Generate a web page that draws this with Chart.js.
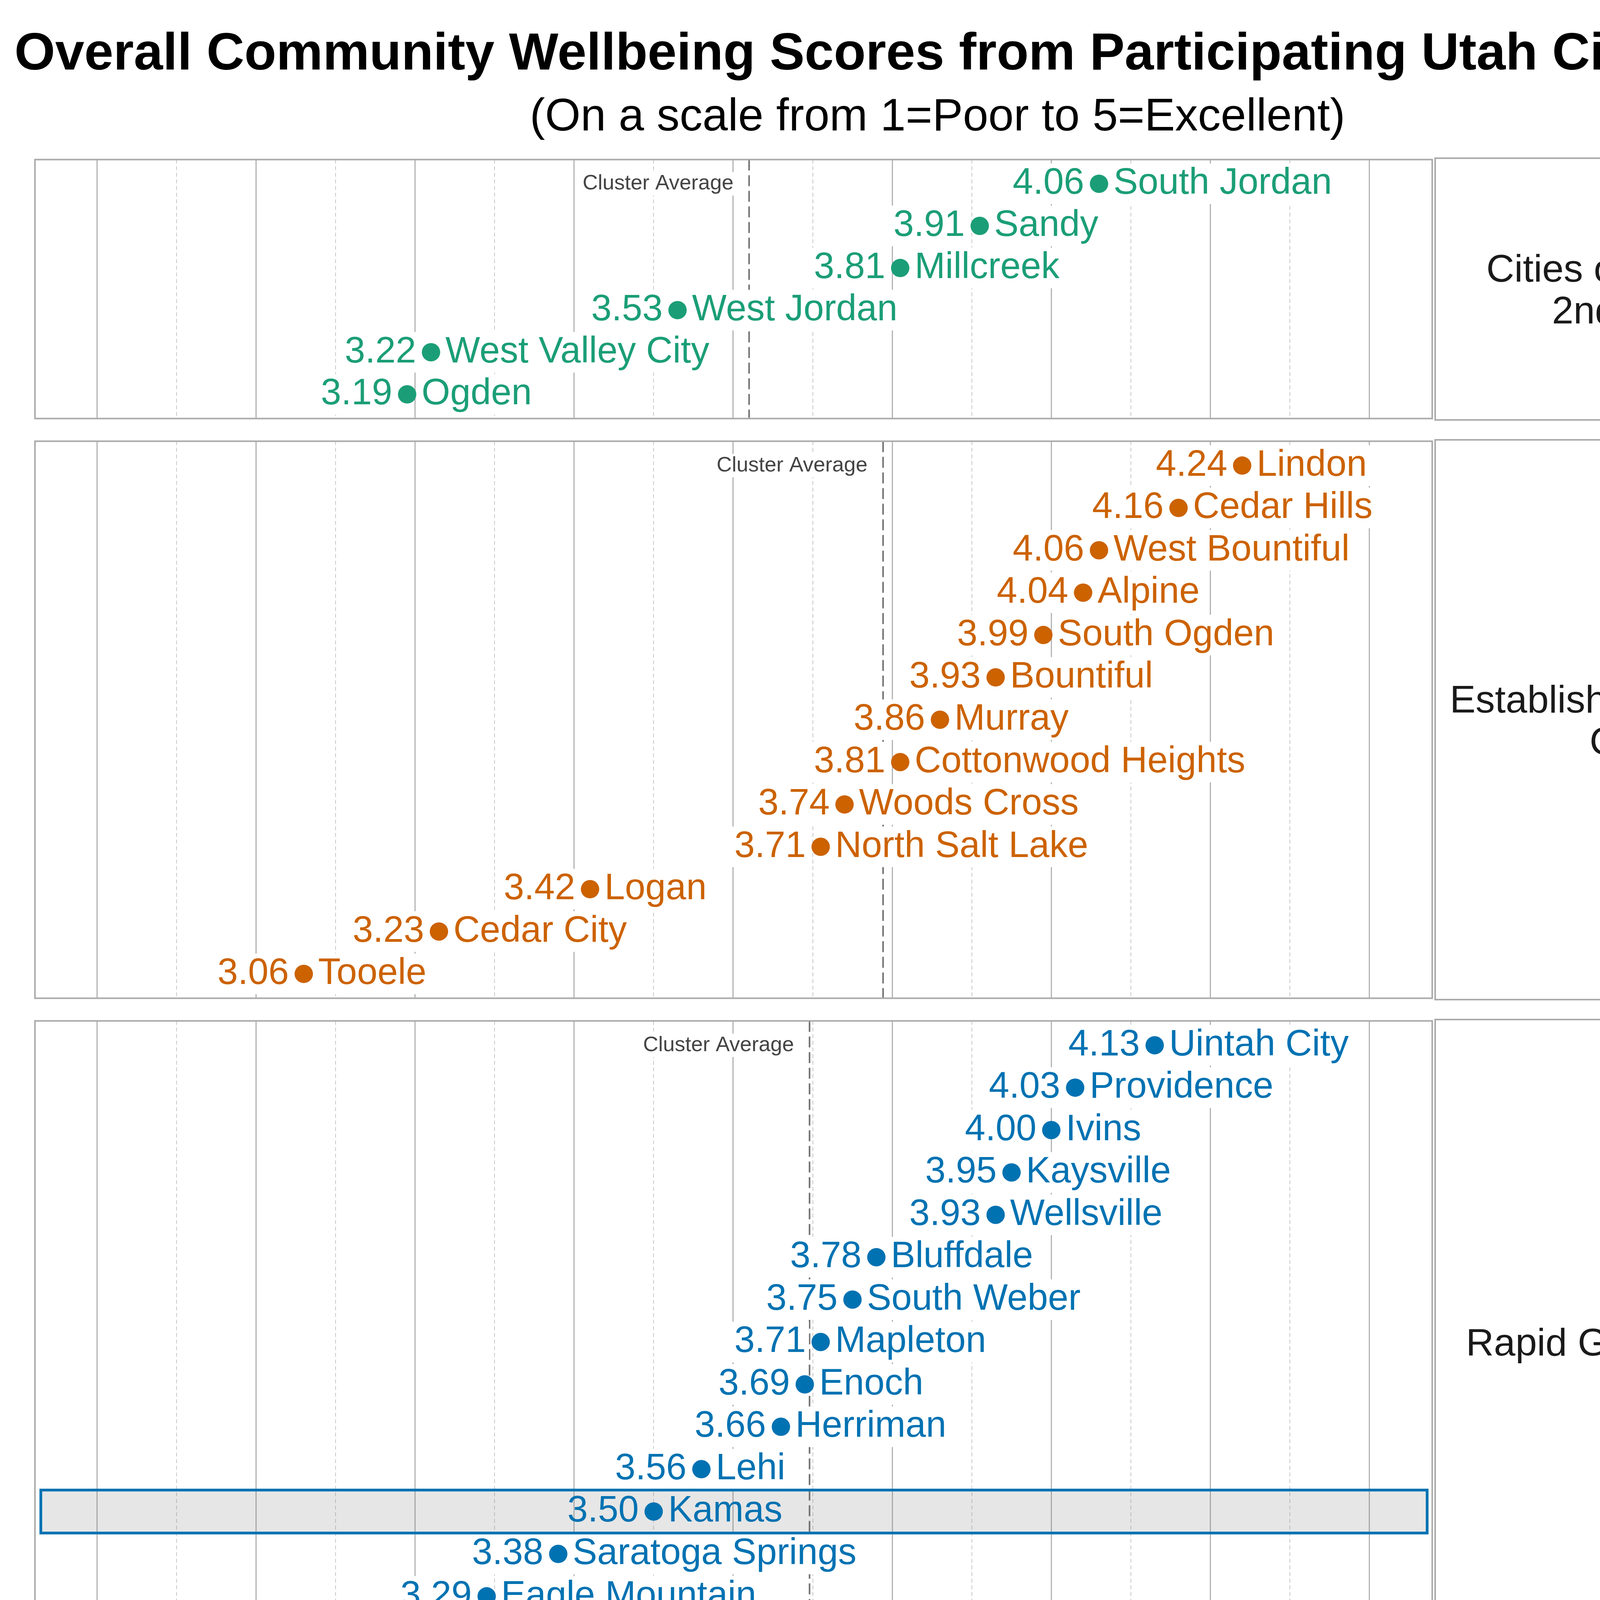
<!DOCTYPE html>
<html>
<head>
<meta charset="utf-8">
<title>Overall Community Wellbeing Scores</title>
<script src="https://cdn.jsdelivr.net/npm/chart.js@4.4.1/dist/chart.umd.min.js"></script>
<style>
  html, body { margin: 0; padding: 0; background: #fff; }
  body { width: 4800px; height: 7200px; position: relative; overflow: hidden;
         font-family: "Liberation Sans", Arial, sans-serif; }
  #page { position: absolute; left: 0; top: 0; width: 4800px; height: 7200px; }
  .head { position: absolute; left: 0; width: 4800px; text-align: center; color: #000; white-space: nowrap; }
  #title { top: 65px; font-size: 134px; line-height: 134px; font-weight: bold; }
  #subtitle { top: 235px; font-size: 117px; line-height: 117px; }
  canvas { position: absolute; left: 66px; }
  .strip { position: absolute; left: 3672px; width: 1042px; box-sizing: border-box;
           border: 4px solid #aaaaaa; display: flex; align-items: center; justify-content: center;
           text-align: center; font-size: 99px; line-height: 107px; color: #1a1a1a; }
</style>
</head>
<body>
<div id="page">
<div class="head" id="title">Overall Community Wellbeing Scores from Participating Utah Cities (2026)</div>
<div class="head" id="subtitle">(On a scale from 1=Poor to 5=Excellent)</div>
</div>
<script>
// cluster 1: cities of the 1st & 2nd class
const CITIES_1ST_2ND = ['South Jordan', 'Sandy', 'Millcreek', 'West Jordan', 'West Valley City', 'Ogden'];
const SCORES_1ST_2ND = [4.06, 3.91, 3.81, 3.53, 3.22, 3.19];

// cluster 2: established / mid-sized
const CITIES_ESTABLISHED = ['Lindon', 'Cedar Hills', 'West Bountiful', 'Alpine', 'South Ogden', 'Bountiful',
    'Murray', 'Cottonwood Heights', 'Woods Cross', 'North Salt Lake', 'Logan', 'Cedar City', 'Tooele'];
const SCORES_ESTABLISHED = [4.24, 4.16, 4.06, 4.04, 3.99, 3.93, 3.86, 3.81, 3.74, 3.71, 3.42, 3.23, 3.06];

// cluster 3: rapid growth
const CITIES_RAPID = ['Uintah City', 'Providence', 'Ivins', 'Kaysville', 'Wellsville', 'Bluffdale', 'South Weber',
    'Mapleton', 'Enoch', 'Herriman', 'Lehi', 'Kamas', 'Saratoga Springs', 'Eagle Mountain', 'Grantsville'];
const SCORES_RAPID = [4.13, 4.03, 4.00, 3.95, 3.93, 3.78, 3.75, 3.71, 3.69, 3.66, 3.56, 3.50, 3.38, 3.29, 3.08];

// cluster 4: rural hub / resort
const CITIES_RURAL_HUB = ['Midway', 'Alta', 'Morgan', 'Bluff', 'Springdale', 'Richfield', 'Heber', 'Nephi',
    'Manila', 'Blanding', 'Vernal', 'Moab', 'Tremonton', 'Wendover'];
const SCORES_RURAL_HUB = [4.24, 4.15, 3.89, 3.80, 3.71, 3.57, 3.51, 3.51, 3.51, 3.33, 3.21, 3.12, 2.94, 2.92];

// cluster 5: traditional rural
const CITIES_TRADITIONAL = ['Mayfield', 'Lewiston', 'Toquerville', 'Ferron', 'Orangeville', 'Lake Point',
    'La Verkin', 'Delta', 'Stockton'];
const SCORES_TRADITIONAL = [4.08, 3.99, 3.83, 3.76, 3.72, 3.62, 3.57, 3.35, 3.30];

const CLUSTER_LABELS = [
    ['Cities of the 1st &', '2nd Class'],
    ['Established/Mid-sized', 'Cities'],
    ['Rapid Growth Cities'],
    ['Rural Hub/Resort', 'Communities'],
    ['Traditional Rural', 'Communities']
];
const CLUSTER_COLORS = ['#1b9e77', '#cc6200', '#0072b2', '#b0182b', '#6a3d9a'];

const X_TICKS = [2.8, 3.0, 3.2, 3.4, 3.6, 3.8, 4.0, 4.2, 4.4];
const X_MINOR = [2.9, 3.1, 3.3, 3.5, 3.7, 3.9, 4.1, 4.3];
const X_MIN = 2.722;
const X_MAX = 4.479;
const HIGHLIGHT = 'Kamas';

const PANELS = [
    { names: CITIES_1ST_2ND, scores: SCORES_1ST_2ND },
    { names: CITIES_ESTABLISHED, scores: SCORES_ESTABLISHED },
    { names: CITIES_RAPID, scores: SCORES_RAPID },
    { names: CITIES_RURAL_HUB, scores: SCORES_RURAL_HUB },
    { names: CITIES_TRADITIONAL, scores: SCORES_TRADITIONAL }
];

Chart.defaults.font.family = '"Liberation Sans", Arial, sans-serif';

const FONT = '"Liberation Sans", Arial, sans-serif';
const ROW = 109;      // px per city row
const PAD = 0.575;    // empty rows above / below
const page = document.getElementById('page');

function mean(arr) {
    return arr.reduce((a, b) => a + b, 0) / arr.length;
}

function labelBox(ctx, text, x, y, align, padX, halfH) {
    const w = ctx.measureText(text).width;
    const left = align === 'right' ? x - w : x;
    ctx.fillStyle = '#ffffff';
    ctx.fillRect(left - padX, y - halfH, w + 2 * padX, 2 * halfH);
}

function makePanel(p, idx, top, h, last) {
    const color = CLUSTER_COLORS[idx];
    const avg = mean(p.scores);
    const hiIdx = p.names.indexOf(HIGHLIGHT);

    const canvas = document.createElement('canvas');
    canvas.width = 3624;
    canvas.height = h + 20 + (last ? 296 : 20);
    canvas.style.top = (top - 20) + 'px';
    page.appendChild(canvas);

    const strip = document.createElement('div');
    strip.className = 'strip';
    strip.style.top = (top - 2) + 'px';
    strip.style.height = (h + 4) + 'px';
    strip.innerHTML = CLUSTER_LABELS[idx].join('<br>');
    page.appendChild(strip);

    const panelPlugin = {
        id: 'panelDecor' + idx,
        beforeDatasetsDraw(chart) {
            const ctx = chart.ctx;
            const a = chart.chartArea;
            const xs = chart.scales.x, ys = chart.scales.y;
            ctx.save();
            if (hiIdx >= 0) {
                const y = ys.getPixelForValue(hiIdx);
                ctx.fillStyle = 'rgba(128,128,128,0.2)';
                ctx.fillRect(a.left + 15, y - 55, a.right - a.left - 28, 110);
            }
            const ax = xs.getPixelForValue(avg);
            ctx.strokeStyle = '#707070';
            ctx.lineWidth = 4;
            ctx.setLineDash([28, 12]);
            ctx.beginPath();
            ctx.moveTo(ax, a.top);
            ctx.lineTo(ax, a.bottom);
            ctx.stroke();
            ctx.restore();
        },
        afterDatasetsDraw(chart) {
            const ctx = chart.ctx;
            const a = chart.chartArea;
            const xs = chart.scales.x, ys = chart.scales.y;
            const pts = chart.getDatasetMeta(0).data;
            ctx.save();
            ctx.font = '94px ' + FONT;
            ctx.textBaseline = 'middle';
            pts.forEach((pt, i) => {
                const val = p.scores[i].toFixed(2);
                const name = p.names[i];
                if (i !== hiIdx) {
                    labelBox(ctx, val, pt.x - 38, pt.y, 'right', 8, 52);
                    labelBox(ctx, name, pt.x + 37, pt.y, 'left', 8, 52);
                }
                ctx.fillStyle = color;
                ctx.textAlign = 'right';
                ctx.fillText(val, pt.x - 38, pt.y);
                ctx.textAlign = 'left';
                ctx.fillText(name, pt.x + 37, pt.y);
            });

            // cluster average caption
            const ax = xs.getPixelForValue(avg);
            const cy = ys.getPixelForValue(0);
            ctx.font = '54px ' + FONT;
            labelBox(ctx, 'Cluster Average', ax - 40, cy, 'right', 6, 30);
            ctx.fillStyle = '#444444';
            ctx.textAlign = 'right';
            ctx.fillText('Cluster Average', ax - 40, cy);

            if (hiIdx >= 0) {
                const y = ys.getPixelForValue(hiIdx);
                ctx.strokeStyle = color;
                ctx.lineWidth = 7;
                ctx.strokeRect(a.left + 15, y - 55, a.right - a.left - 28, 110);
            }
            ctx.restore();
        },
        afterDraw(chart) {
            const a = chart.chartArea;
            const ctx = chart.ctx;
            ctx.save();
            ctx.strokeStyle = '#aaaaaa';
            ctx.lineWidth = 4;
            ctx.strokeRect(a.left, a.top, a.right - a.left, a.bottom - a.top);
            ctx.restore();
        }
    };

    new Chart(canvas, {
        type: 'scatter',
        data: {
            datasets: [{
                data: p.scores.map((v, i) => ({ x: v, y: i })),
                backgroundColor: color,
                borderWidth: 0,
                pointRadius: 23.5,
                pointHoverRadius: 23.5
            }]
        },
        options: {
            responsive: false,
            animation: false,
            devicePixelRatio: 1,
            events: [],
            layout: { padding: { left: 20, right: 20, top: 20, bottom: last ? 0 : 20 } },
            plugins: {
                legend: { display: false },
                tooltip: { enabled: false }
            },
            scales: {
                x: {
                    type: 'linear',
                    position: 'bottom',
                    min: X_MIN,
                    max: X_MAX,
                    afterBuildTicks: s => { s.ticks = X_TICKS.map(v => ({ value: v })); },
                    afterFit: s => { s.height = last ? 296 : 0; },
                    grid: { color: '#b3b3b3', lineWidth: 3, drawTicks: false },
                    border: { display: false },
                    ticks: {
                        display: last,
                        padding: 7,
                        maxRotation: 0,
                        autoSkip: false,
                        color: '#1a1a1a',
                        font: { size: 72 },
                        callback: v => Number(v).toFixed(1)
                    },
                    title: {
                        display: last,
                        text: 'Average Score',
                        color: '#000000',
                        font: { size: 81 },
                        padding: { top: 0, bottom: 78 }
                    }
                },
                xm: {
                    type: 'linear',
                    position: 'bottom',
                    min: X_MIN,
                    max: X_MAX,
                    afterBuildTicks: s => { s.ticks = X_MINOR.map(v => ({ value: v })); },
                    afterFit: s => { s.height = 0; },
                    grid: { color: '#c8c8c8', lineWidth: 2, drawTicks: false },
                    border: { display: false, dash: [10, 7] },
                    ticks: { display: false }
                },
                y: {
                    type: 'linear',
                    display: false,
                    reverse: true,
                    min: -PAD,
                    max: p.names.length - 1 + PAD
                }
            }
        },
        plugins: [panelPlugin]
    });
}

let panelTop = 405;
PANELS.forEach((p, i) => {
    const h = Math.round((p.names.length - 1 + 2 * PAD) * ROW);
    makePanel(p, i, panelTop, h, i === PANELS.length - 1);
    panelTop += h + 51;
});
</script>
</body>
</html>
